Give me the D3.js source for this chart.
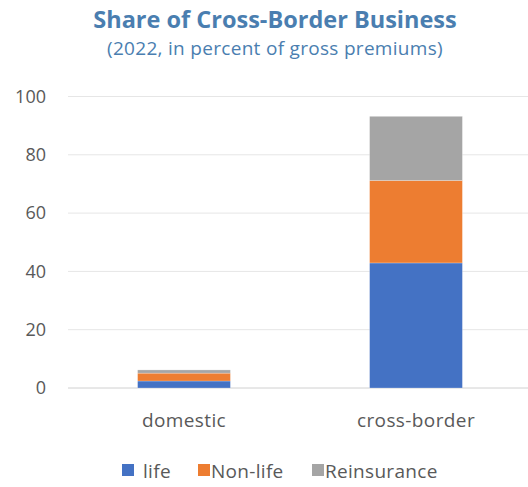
<!DOCTYPE html>
<html>
<head>
<meta charset="utf-8">
<script src="https://cdn.jsdelivr.net/npm/d3@7"></script>
<style>
  html, body { margin: 0; padding: 0; background: #fff; }
  svg { display: block; font-family: "Open Sans", "Noto Sans", sans-serif; }
</style>
</head>
<body>
<svg id="chart" width="528" height="487"></svg>
<script>
// Business categories along the x axis
const categories = ["domestic", "cross-border"];
// Share of gross premiums (percent) by line of business
const life = [2.4, 42.9];
const nonLife = [2.7, 28.3];
const reinsurance = [1.1, 22.0];
const seriesNames = ["life", "Non-life", "Reinsurance"];
const seriesColors = ["#4472c4", "#ed7d31", "#a5a5a5"];
const yTicks = [0, 20, 40, 60, 80, 100];

const rows = categories.map((c, i) => ({
  category: c,
  "life": life[i],
  "Non-life": nonLife[i],
  "Reinsurance": reinsurance[i]
}));

const svg = d3.select("#chart");
const x = d3.scaleBand().domain(categories).range([68, 532]).paddingInner(0.6).paddingOuter(0.3);
const y = d3.scaleLinear().domain([0, 100]).range([388, 96.5]);
const color = d3.scaleOrdinal().domain(seriesNames).range(seriesColors);

// Title
svg.append("text")
  .attr("x", 275).attr("y", 27.5)
  .attr("text-anchor", "middle")
  .attr("fill", "#4a7eb0")
  .attr("font-size", 23.5)
  .attr("font-weight", "bold")
  .text("Share of Cross-Border Business");
svg.append("text")
  .attr("x", 275).attr("y", 55)
  .attr("text-anchor", "middle")
  .attr("fill", "#4a7eb0")
  .attr("font-size", 19)
  .attr("letter-spacing", 0.3)
  .text("(2022, in percent of gross premiums)");

// Horizontal gridlines
svg.append("g")
  .selectAll("line")
  .data(yTicks)
  .join("line")
  .attr("x1", 68).attr("x2", 528)
  .attr("y1", d => y(d)).attr("y2", d => y(d))
  .attr("stroke", d => d === 0 ? "#d0d0d0" : "#e6e6e6")
  .attr("stroke-width", 1);

// Y axis labels
const yAxis = svg.append("g")
  .attr("transform", "translate(46,0)")
  .call(d3.axisLeft(y).tickValues(yTicks).tickSize(0).tickPadding(0));
yAxis.select(".domain").remove();
yAxis.selectAll("text")
  .attr("fill", "#595959")
  .attr("font-size", 18)
  .attr("font-family", "'Open Sans', 'Noto Sans', sans-serif");

// Stacked bars
const stacked = d3.stack().keys(seriesNames)(rows);
svg.append("g")
  .selectAll("g")
  .data(stacked)
  .join("g")
  .attr("fill", d => color(d.key))
  .selectAll("rect")
  .data(d => d)
  .join("rect")
  .attr("x", d => x(d.data.category))
  .attr("width", x.bandwidth())
  .attr("y", d => y(d[1]))
  .attr("height", d => y(d[0]) - y(d[1]))
  .attr("stroke", "#ffffff")
  .attr("stroke-opacity", 0.4)
  .attr("stroke-width", 0.6);

// X axis labels
const xAxis = svg.append("g")
  .attr("transform", "translate(0,427)")
  .call(d3.axisBottom(x).tickSize(0).tickPadding(0));
xAxis.select(".domain").remove();
xAxis.selectAll("text")
  .attr("dy", 0)
  .attr("fill", "#595959")
  .attr("font-size", 19)
  .attr("letter-spacing", 0.4)
  .attr("font-family", "'Open Sans', 'Noto Sans', sans-serif");

// Legend
const legendX = [122, 198, 312];
const legend = svg.append("g")
  .selectAll("g")
  .data(seriesNames)
  .join("g")
  .attr("transform", (d, i) => `translate(${legendX[i]},464)`);
legend.append("rect")
  .attr("width", 12).attr("height", 12)
  .attr("fill", d => color(d));
legend.append("text")
  .attr("x", (d, i) => i === 0 ? 21 : 13)
  .attr("y", 14.2)
  .attr("fill", "#595959")
  .attr("font-size", 19)
  .attr("letter-spacing", 0.3)
  .text(d => d);
</script>
</body>
</html>
